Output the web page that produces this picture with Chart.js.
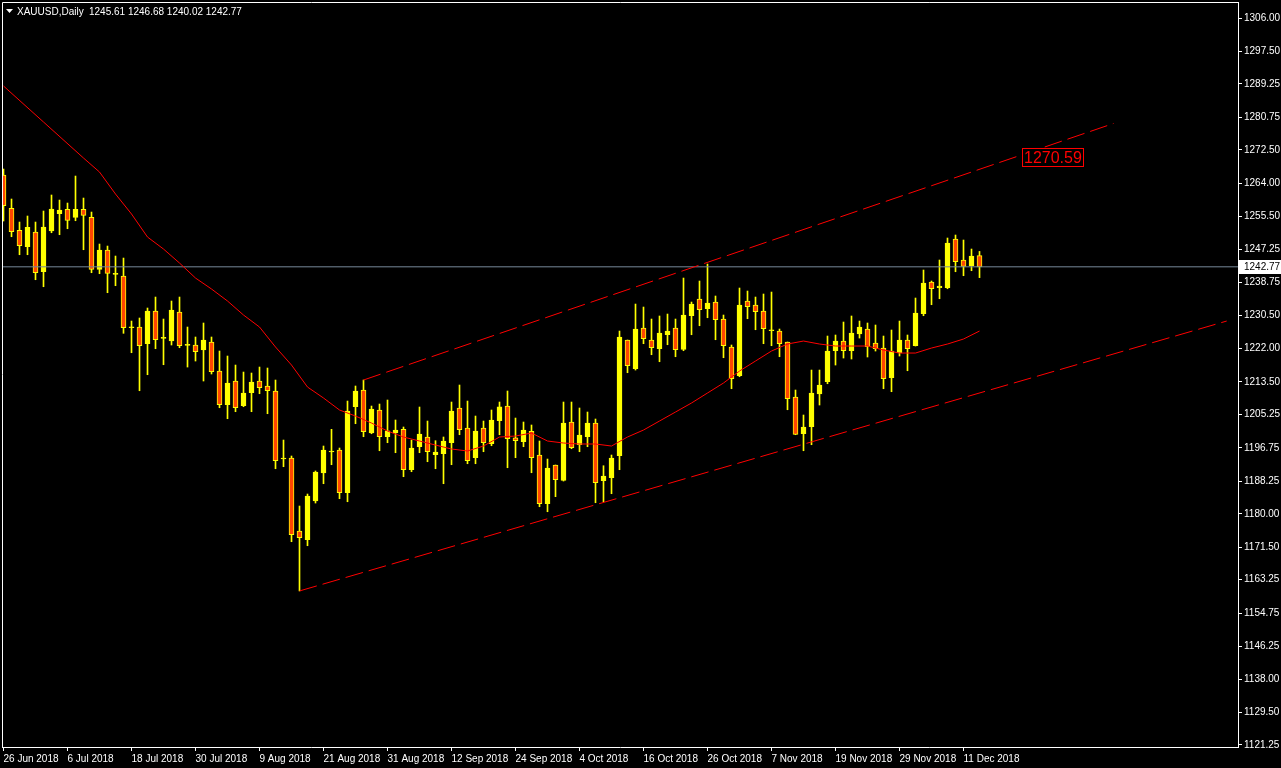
<!DOCTYPE html>
<html><head><meta charset="utf-8">
<script src="https://cdn.jsdelivr.net/npm/chart.js@4/dist/chart.umd.min.js"></script>
<style>html,body{margin:0;padding:0;background:#000;overflow:hidden}canvas{display:block}</style>
</head><body>
<canvas id="c" width="1281" height="768"></canvas>
<script>
const symbolName = 'XAUUSD,Daily';
const openP = [1266.10,1257.64,1252.04,1247.88,1251.61,1241.52,1251.87,1256.26,1257.38,1255.35,
1257.38,1255.35,1242.13,1247.04,1240.86,1240.43,1227.29,1227.47,1223.23,1231.54,
1224.60,1223.91,1231.28,1222.82,1222.90,1221.62,1223.66,1216.29,1207.72,1213.75,
1207.47,1210.77,1213.75,1212.48,1211.21,1193.92,1194.18,1175.63,1173.42,1183.25,
1190.37,1195.70,1196.21,1185.36,1207.22,1211.46,1200.53,1206.38,1199.59,1200.53,
1201.47,1191.21,1197.05,1199.52,1195.02,1195.27,1198.07,1206.89,1201.80,1194.26,
1201.80,1197.81,1203.66,1207.39,1199.34,1198.32,1200.96,1194.94,1182.57,1192.40,
1188.51,1203.33,1197.56,1199.59,1203.07,1188.41,1189.17,1194.76,1224.17,1216.87,
1227.22,1224.17,1221.96,1225.51,1227.22,1221.80,1230.34,1234.59,1232.12,1233.82,
1229.50,1222.39,1215.09,1234.08,1233.06,1231.54,1226.53,1226.45,1223.66,1209.68,
1200.35,1202.13,1210.44,1213.57,1221.45,1223.91,1221.45,1225.69,1226.96,1223.40,
1222.13,1214.59,1220.86,1224.17,1222.72,1230.85,1238.91,1237.46,1237.46,1249.83,
1244.50,1242.97,1245.61];
const highP = [1267.62,1260.00,1254.15,1255.68,1254.15,1256.95,1261.02,1259.74,1258.98,1265.84,
1260.25,1256.69,1248.56,1248.05,1245.51,1245.00,1228.99,1229.76,1232.30,1235.09,
1229.50,1234.08,1235.09,1227.47,1224.93,1228.49,1224.93,1221.37,1220.10,1217.81,
1216.03,1215.78,1217.30,1217.05,1214.00,1198.75,1194.69,1181.98,1185.03,1190.88,
1197.23,1201.47,1196.72,1208.66,1212.48,1214.00,1207.39,1207.90,1208.92,1203.84,
1202.06,1198.75,1207.14,1203.58,1198.58,1199.52,1208.41,1212.73,1208.66,1204.85,
1203.58,1206.38,1208.41,1211.21,1204.34,1203.33,1202.57,1198.50,1193.92,1192.40,
1208.41,1208.41,1206.89,1205.87,1204.09,1192.22,1194.94,1226.45,1224.17,1233.31,
1232.55,1229.50,1230.27,1230.77,1229.50,1239.92,1233.82,1239.16,1243.48,1235.35,
1230.52,1222.90,1237.38,1236.62,1235.09,1235.86,1236.36,1226.96,1223.66,1211.46,
1205.11,1216.54,1216.54,1225.18,1225.44,1228.74,1230.27,1228.99,1228.49,1227.98,
1225.18,1226.71,1228.99,1225.44,1234.84,1241.96,1239.16,1244.50,1250.09,1250.85,
1249.58,1247.29,1246.68];
const lowP = [1254.41,1250.42,1245.84,1245.84,1239.49,1237.71,1251.43,1250.93,1252.45,1254.48,
1247.11,1241.27,1241.02,1236.19,1237.97,1225.87,1220.94,1211.28,1215.35,1221.96,
1217.89,1222.90,1222.21,1217.30,1218.83,1213.75,1215.53,1206.96,1204.17,1205.95,
1207.22,1205.95,1210.52,1205.44,1191.46,1191.97,1172.91,1160.40,1171.89,1182.74,
1187.65,1192.48,1183.84,1183.07,1202.90,1199.59,1200.35,1196.03,1198.07,1195.53,
1189.43,1190.70,1195.53,1193.24,1191.46,1187.65,1192.48,1200.10,1192.73,1192.73,
1195.78,1197.30,1200.10,1191.71,1194.26,1197.05,1190.44,1181.80,1180.53,1184.35,
1188.33,1196.54,1195.78,1197.05,1182.82,1183.07,1185.11,1191.21,1215.86,1216.54,
1223.23,1220.43,1218.65,1222.97,1219.92,1221.45,1225.51,1227.80,1229.83,1224.24,
1219.67,1211.79,1214.84,1229.58,1226.78,1223.23,1222.72,1219.92,1206.45,1200.10,
1196.03,1197.56,1207.65,1213.06,1217.81,1219.59,1219.34,1224.67,1219.85,1221.37,
1211.79,1211.03,1220.10,1216.36,1222.64,1230.34,1233.14,1234.66,1237.20,1241.52,
1240.51,1241.78,1240.02];
const closeP = [1258.30,1251.69,1248.13,1252.81,1241.27,1252.88,1257.46,1257.20,1254.59,1257.38,
1255.86,1242.13,1247.04,1241.12,1240.86,1227.29,1227.29,1222.72,1231.54,1224.24,
1224.60,1231.79,1222.72,1222.82,1221.19,1224.17,1216.11,1207.72,1213.24,1206.96,
1210.70,1213.49,1212.04,1211.28,1193.49,1193.92,1174.69,1173.92,1184.52,1190.62,
1196.21,1195.70,1185.36,1206.12,1211.21,1200.86,1206.63,1199.59,1201.12,1201.29,
1191.21,1196.72,1200.28,1195.78,1195.70,1198.50,1206.12,1201.37,1193.49,1201.04,
1198.07,1203.84,1207.22,1199.08,1198.58,1201.29,1194.26,1182.57,1191.64,1188.66,
1203.07,1196.80,1200.02,1203.07,1187.90,1189.60,1194.18,1224.93,1217.64,1226.96,
1224.50,1222.21,1225.95,1226.45,1221.70,1230.52,1233.31,1231.87,1233.57,1229.33,
1222.72,1214.33,1233.06,1232.63,1231.36,1227.04,1226.53,1223.23,1209.25,1200.20,
1202.06,1210.70,1212.73,1221.37,1223.91,1221.45,1225.95,1227.47,1222.46,1221.96,
1214.33,1221.37,1224.17,1221.96,1231.03,1238.65,1237.20,1237.89,1248.82,1244.06,
1242.90,1245.51,1242.77];

const dateTickBars = [0,8,16,24,32,40,48,56,64,72,80,88,96,104,112,120];
const dateTickLabels = ['26 Jun 2018','6 Jul 2018','18 Jul 2018','30 Jul 2018','9 Aug 2018','21 Aug 2018',
'31 Aug 2018','12 Sep 2018','24 Sep 2018','4 Oct 2018','16 Oct 2018','26 Oct 2018','7 Nov 2018',
'19 Nov 2018','29 Nov 2018','11 Dec 2018'];
const yTickValues = [1306.00,1297.50,1289.25,1280.75,1272.50,1264.00,1255.50,1247.25,1238.75,1230.50,
1222.00,1213.50,1205.25,1196.75,1188.25,1180.00,1171.50,1163.25,1154.75,1146.25,1138.00,1129.50,1121.25];

const maBars = [0,5,10,12,14,16,18,20,22,24,26,28,30,32,34,36,38,40,42,44,46,48,50,52,54,56,58,60,
62,64,66,68,70,72,74,76,78,80,82,84,86,88,90,92,94,96,98,100,102,104,106,108,110,112,114,116,118,120,122];
const maValues = [1288.72,1279.57,1270.42,1266.86,1261.27,1256.19,1250.34,1247.29,1243.73,1239.92,
1237.13,1234.08,1230.52,1227.47,1222.39,1217.81,1212.22,1209.43,1206.38,1204.85,1203.07,1201.04,
1199.52,1198.50,1197.48,1196.47,1195.96,1197.23,1199.52,1199.77,1200.53,1198.50,1197.99,1197.74,
1197.74,1197.23,1199.52,1201.29,1203.58,1205.87,1208.16,1210.70,1213.24,1216.29,1218.83,1221.37,
1223.15,1223.91,1223.15,1222.64,1222.64,1222.64,1221.62,1220.86,1220.86,1222.13,1223.15,1224.42,1226.45];

const upperTrendBars = [45, 138.75];
const upperTrendValues = [1214.00, 1279.20];
const lowerTrendBars = [37, 152.9];
const lowerTrendValues = [1160.40, 1228.99];
const trendLabelText = '1270.59';
const trendLabelBar = 127.3;

const FONT = "'Liberation Sans',Arial,sans-serif";
const xMin = -0.1875, xMax = 154.3125;
const yMin = 1120.74, yMax = 1310.07;
const last = openP.length - 1;
const lastClose = closeP[last];

const bodies = openP.map((o, i) => ({x: i, y: [Math.min(o, closeP[i]), Math.max(o, closeP[i])]}));
const wicks = lowP.map((l, i) => ({x: i, y: [l, highP[i]]}));
const bodyColors = openP.map((o, i) => closeP[i] < o ? '#FF4500' : '#FFFF00');

const overlay = {
  id: 'overlay',
  afterDraw(chart) {
    const {ctx, chartArea: a, scales: {x, y}} = chart;
    ctx.save();
    ctx.strokeStyle = '#fff'; ctx.lineWidth = 1;
    ctx.beginPath();
    ctx.moveTo(a.left + 0.5, a.bottom); ctx.lineTo(a.left + 0.5, a.top + 0.5); ctx.lineTo(a.right, a.top + 0.5);
    ctx.stroke();
    // header
    ctx.fillStyle = '#fff';
    ctx.beginPath(); ctx.moveTo(6, 9); ctx.lineTo(13, 9); ctx.lineTo(9.5, 13); ctx.closePath(); ctx.fill();
    ctx.font = '10px ' + FONT; ctx.textBaseline = 'alphabetic'; ctx.textAlign = 'left';
    ctx.fillText(symbolName, 17, 15);
    ctx.fillText([openP[last], highP[last], lowP[last], closeP[last]].map(v => v.toFixed(2)).join(' '), 89, 15);
    // trend label
    ctx.font = '16px ' + FONT;
    const tx = x.getPixelForValue(trendLabelBar), ty = y.getPixelForValue(parseFloat(trendLabelText));
    const tw = ctx.measureText(trendLabelText).width;
    const bx = Math.round(tx) + 0.5, by = Math.round(ty - 9) + 0.5, bw = Math.round(tw + 3);
    ctx.fillStyle = '#000'; ctx.fillRect(bx, by, bw, 18);
    ctx.strokeStyle = '#FF0000'; ctx.strokeRect(bx, by, bw, 18);
    ctx.fillStyle = '#FF0000'; ctx.textBaseline = 'middle';
    ctx.fillText(trendLabelText, bx + 1.5, ty + 1);
    // price tag
    const py = y.getPixelForValue(lastClose);
    ctx.fillStyle = '#fff'; ctx.fillRect(a.right + 1, Math.round(py) - 7, 43, 14);
    ctx.fillStyle = '#000'; ctx.font = '10px ' + FONT; ctx.textBaseline = 'middle';
    ctx.fillText(lastClose.toFixed(2), a.right + 6, py);
    ctx.restore();
  }
};

new Chart(document.getElementById('c').getContext('2d'), {
  type: 'bar',
  data: {
    datasets: [
      {type: 'line', label: 'MA', data: maBars.map((b, i) => ({x: b, y: maValues[i]})),
       borderColor: '#FF0000', borderWidth: 1, pointRadius: 0, tension: 0, order: 0},
      {type: 'line', label: 'upper', data: upperTrendBars.map((b, i) => ({x: b, y: upperTrendValues[i]})),
       borderColor: '#FF0000', borderWidth: 1, borderDash: [18, 6], pointRadius: 0, order: 0},
      {type: 'line', label: 'lower', data: lowerTrendBars.map((b, i) => ({x: b, y: lowerTrendValues[i]})),
       borderColor: '#FF0000', borderWidth: 1, borderDash: [18, 6], pointRadius: 0, order: 0},
      {type: 'line', label: 'bid', data: [{x: xMin, y: lastClose}, {x: xMax, y: lastClose}],
       borderColor: '#778899', borderWidth: 1, pointRadius: 0, order: 0},
      {type: 'bar', label: 'bodies', data: bodies, backgroundColor: bodyColors, borderColor: '#FFFF00',
       borderWidth: 1, borderSkipped: false, barThickness: 5, minBarLength: 1, grouped: false, order: 1},
      {type: 'bar', label: 'wicks', data: wicks, backgroundColor: '#FFFF00', borderWidth: 0,
       barThickness: 1, minBarLength: 1, grouped: false, order: 2}
    ]
  },
  options: {
    responsive: false, animation: false, events: [],
    layout: {padding: {left: 2, top: 2, right: 0, bottom: 0}},
    plugins: {legend: {display: false}, tooltip: {enabled: false}, title: {display: false}},
    scales: {
      x: {type: 'linear', min: xMin, max: xMax, offset: false,
          afterBuildTicks: s => { s.ticks = dateTickBars.map(v => ({value: v})); },
          afterFit: s => { s.height = 21; s.paddingLeft = 0; s.paddingRight = 0; },
          ticks: {autoSkip: false, maxRotation: 0, minRotation: 0, align: 'start', color: '#fff',
                  font: {family: FONT, size: 10}, padding: 2,
                  callback: v => { const k = dateTickBars.indexOf(v); return k >= 0 ? dateTickLabels[k] : ''; }},
          grid: {drawOnChartArea: false, drawTicks: true, tickLength: 4, color: '#fff', offset: false},
          border: {display: true, color: '#fff', width: 1}},
      y: {type: 'linear', position: 'right', min: yMin, max: yMax,
          afterBuildTicks: s => { s.ticks = yTickValues.map(v => ({value: v})); },
          afterFit: s => { s.width = 43; s.paddingTop = 0; s.paddingBottom = 0; },
          ticks: {color: '#fff', font: {family: FONT, size: 10}, padding: 2, autoSkip: false,
                  callback: v => Number(v).toFixed(2)},
          grid: {drawOnChartArea: false, drawTicks: true, tickLength: 4, color: '#fff'},
          border: {display: true, color: '#fff', width: 1}}
    }
  },
  plugins: [overlay]
});
</script>
</body></html>
